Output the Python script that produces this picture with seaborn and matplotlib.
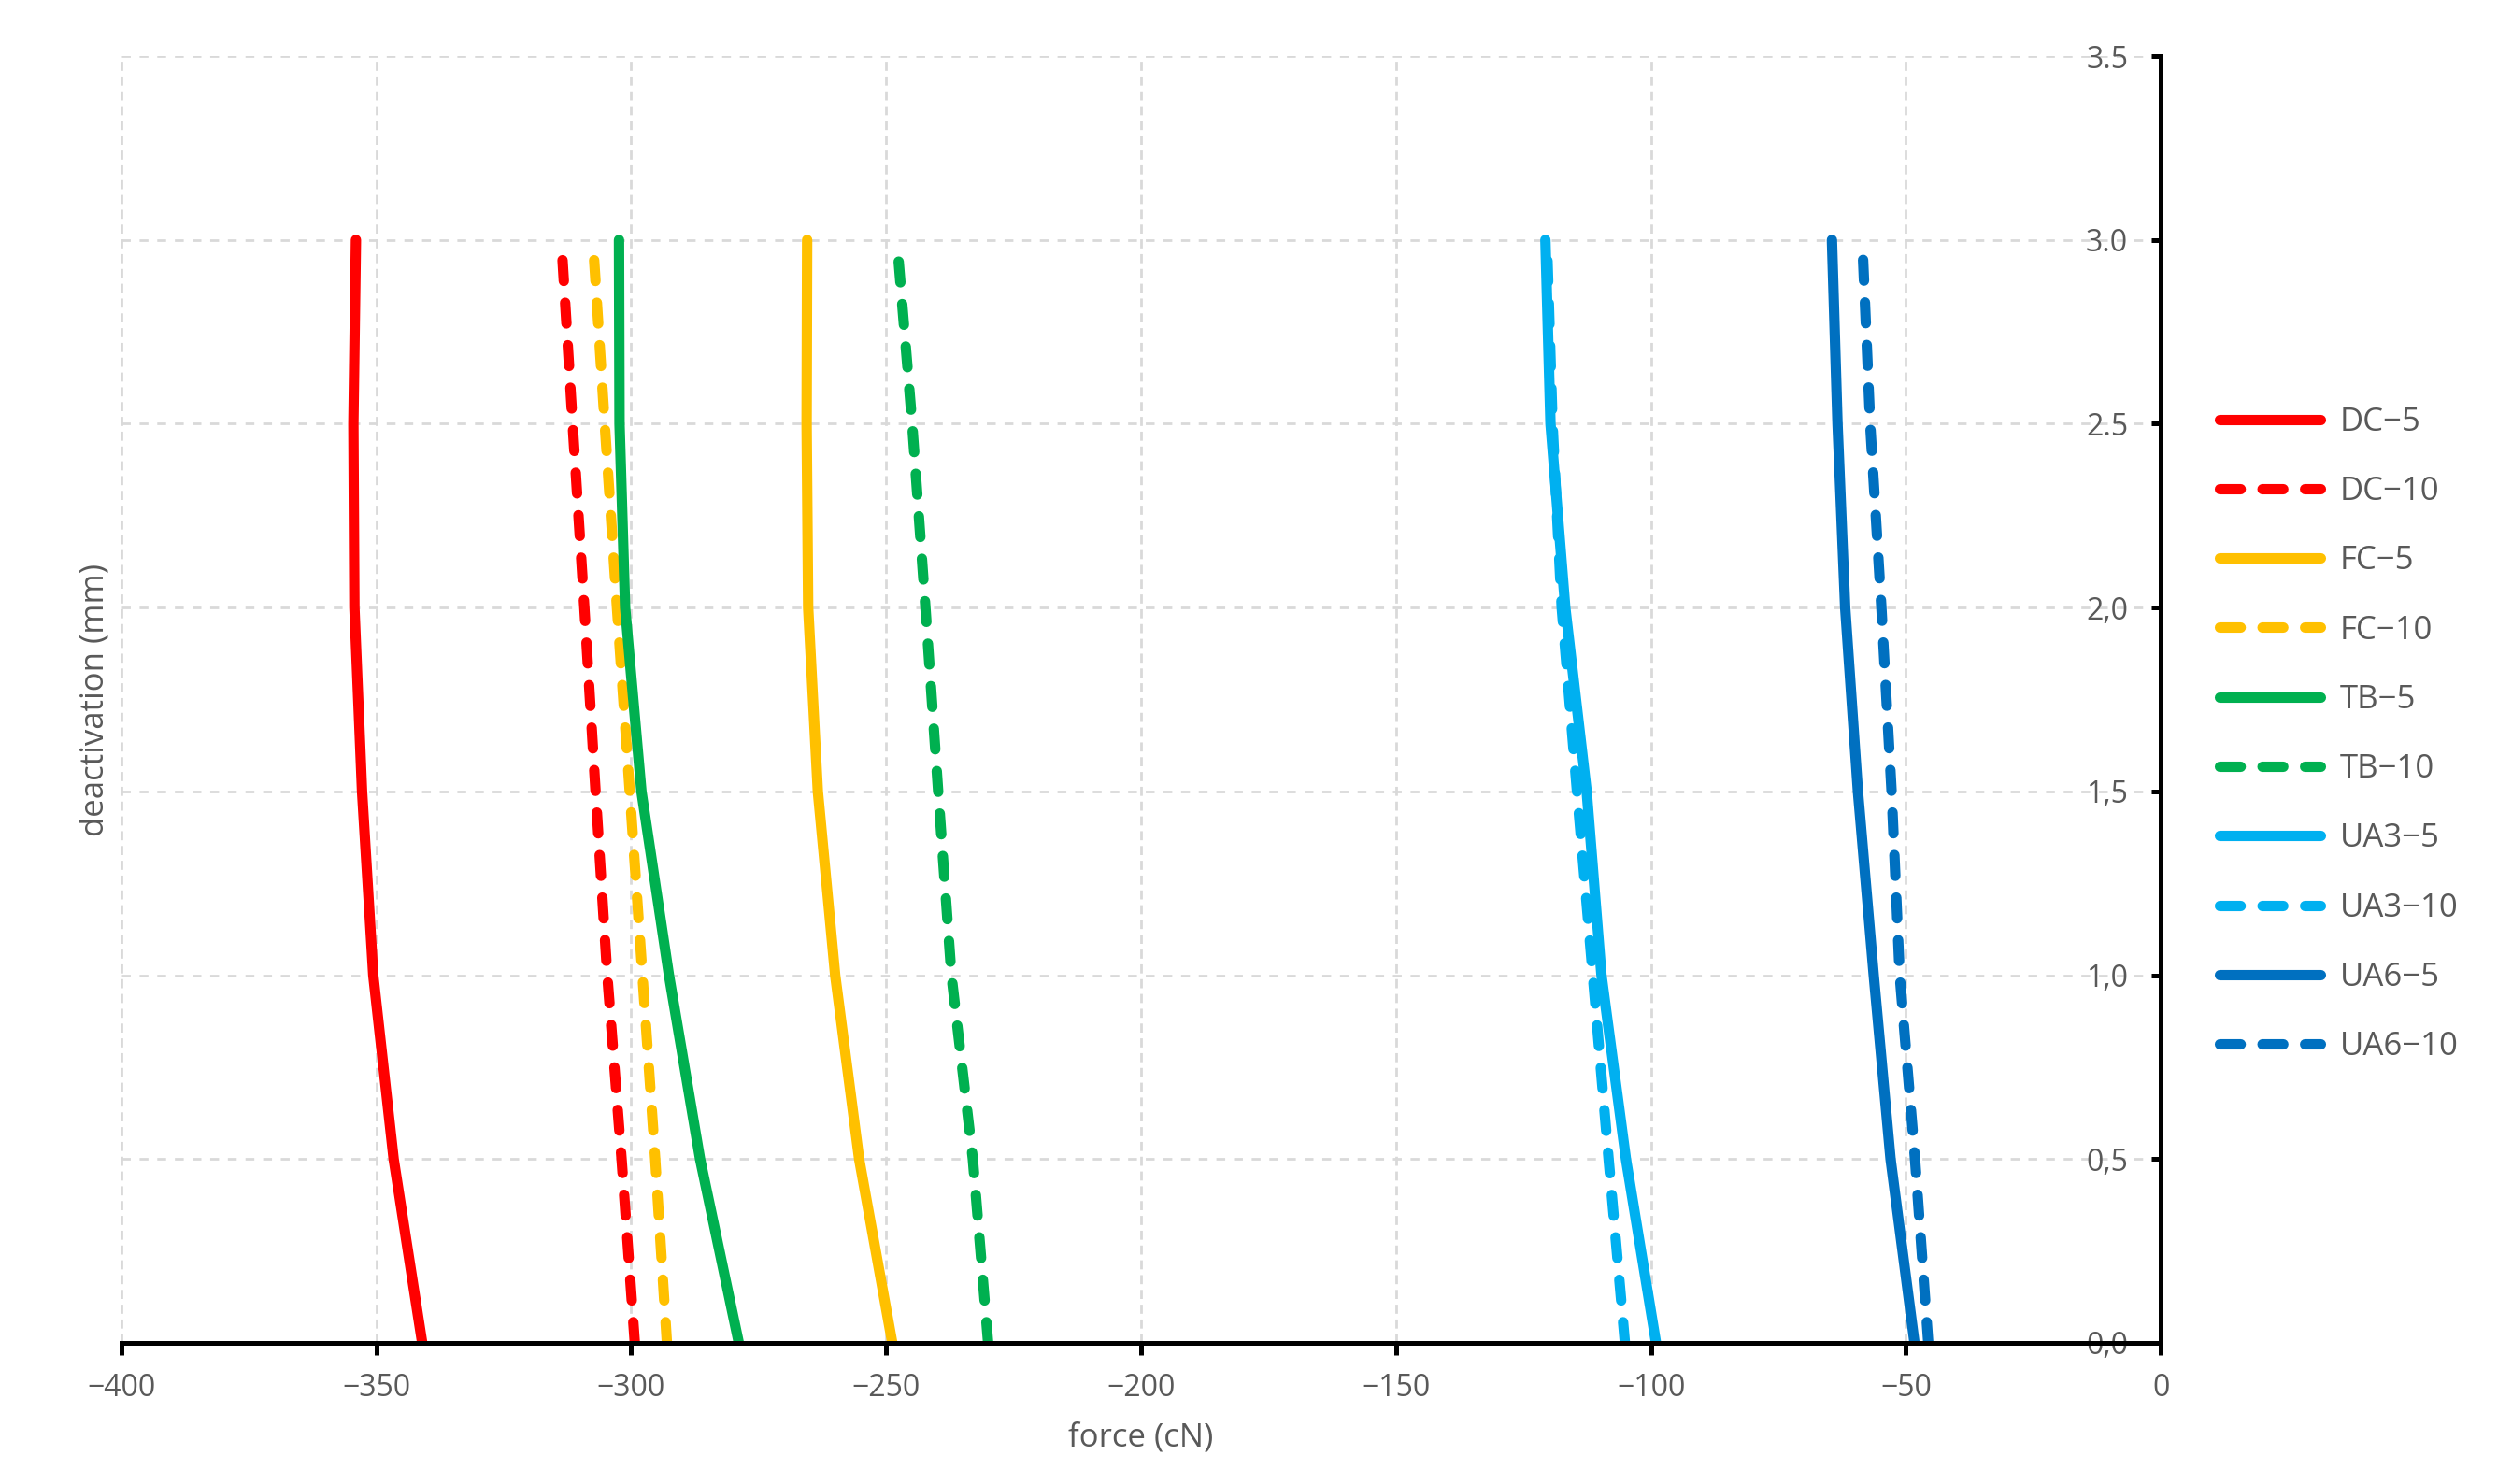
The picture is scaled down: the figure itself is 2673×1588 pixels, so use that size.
import pandas as pd
import matplotlib.pyplot as plt
import seaborn as sns

# deactivation levels (mm) where the curves were read
deact_5 = [0.0, 0.5, 1.0, 1.5, 2.0, 2.5, 3.0]
deact_10 = [0.0, 0.5, 1.0, 1.5, 2.0, 2.5, 2.95]

# force (cN) for each series at those levels
dc_5 = [-341.0, -346.6, -350.6, -352.8, -354.3, -354.5, -354.0]
dc_10 = [-299.3, -301.9, -304.7, -307.0, -309.2, -311.5, -313.5]
fc_5 = [-248.8, -255.3, -260.0, -263.4, -265.3, -265.6, -265.5]
fc_10 = [-293.0, -295.3, -297.8, -300.3, -302.8, -305.2, -307.3]
tb_5 = [-278.9, -286.5, -292.6, -298.0, -301.2, -302.3, -302.4]
tb_10 = [-230.0, -233.0, -237.2, -239.8, -242.3, -244.9, -247.6]
ua3_5 = [-99.0, -104.9, -109.7, -112.6, -116.8, -119.7, -120.7]
ua3_10 = [-105.1, -108.3, -111.4, -114.5, -117.5, -119.3, -120.3]
ua6_5 = [-48.3, -53.0, -56.3, -59.4, -61.9, -63.4, -64.5]
ua6_10 = [-45.6, -48.2, -51.2, -52.8, -54.8, -57.0, -58.4]

nomes = ["DC−5", "DC−10", "FC−5", "FC−10", "TB−5", "TB−10",
         "UA3−5", "UA3−10", "UA6−5", "UA6−10"]
forcas = [dc_5, dc_10, fc_5, fc_10, tb_5, tb_10, ua3_5, ua3_10, ua6_5, ua6_10]
cores = ["#FF0000", "#FF0000", "#FFC000", "#FFC000", "#00B050", "#00B050",
         "#00B0F0", "#00B0F0", "#0070C0", "#0070C0"]

y_ticks = [0.0, 0.5, 1.0, 1.5, 2.0, 2.5, 3.0, 3.5]
y_labels = ["0,0", "0,5", "1,0", "1,5", "2,0", "2.5", "3.0", "3.5"]
x_ticks = [-400, -350, -300, -250, -200, -150, -100, -50, 0]

linhas = []
for i, nome in enumerate(nomes):
    niveis = deact_5 if i % 2 == 0 else deact_10
    for f, d in zip(forcas[i], niveis):
        linhas.append({"serie": nome, "force": f, "deactivation": d})
df = pd.DataFrame(linhas)

paleta = dict(zip(nomes, cores))
tracos = {n: ("" if i % 2 == 0 else (2.0, 2.1)) for i, n in enumerate(nomes)}

sns.set_theme(style="white")
plt.rcParams["font.family"] = ["Open Sans", "DejaVu Sans"]

cinza = "#595959"
lw = 4.0
fig, ax = plt.subplots(figsize=(13.365, 7.94), dpi=200)
fig.subplots_adjust(left=0.0486, right=0.865, bottom=0.0951, top=0.9622)

sns.lineplot(
    data=df, x="force", y="deactivation",
    hue="serie", style="serie",
    hue_order=nomes, style_order=nomes,
    palette=paleta, dashes=tracos,
    sort=False, estimator=None,
    linewidth=lw, solid_capstyle="round", dash_capstyle="round",
    ax=ax,
)

ax.set_xlim(-400, 0)
ax.set_ylim(0, 3.5)
ax.set_xticks(x_ticks)
ax.set_yticks(y_ticks)
ax.set_yticklabels(y_labels)

ax.set_axisbelow(True)
ax.xaxis.grid(True, color="#d9d9d9", linewidth=1.0, linestyle=(0, (3.5, 2.2)))
ax.yaxis.grid(True, color="#d9d9d9", linewidth=1.0, linestyle=(0, (3.4, 3.4)))

ax.spines["top"].set_visible(False)
ax.spines["right"].set_visible(False)
ax.spines["left"].set_position(("data", 0))
for s in ["left", "bottom"]:
    ax.spines[s].set_color("black")
    ax.spines[s].set_linewidth(1.8)

ax.tick_params(axis="x", direction="out", length=4.5, width=1.8, color="black",
               labelcolor=cinza, labelsize=11.5, pad=7, bottom=True)
ax.tick_params(axis="y", direction="out", length=3.6, width=1.8, color="black",
               labelcolor=cinza, labelsize=11.5, pad=9, left=True)

ax.set_xlabel("force (cN)", fontsize=12.5, color=cinza, labelpad=7)
ax.set_ylabel("deactivation (mm)", fontsize=12.5, color=cinza)
ax.yaxis.set_label_coords(-0.005, 0.5)

leg = ax.get_legend()
handles = leg.legend_handles
labels = [t.get_text() for t in leg.get_texts()]
leg.remove()
for h in handles:
    h.set_linewidth(lw)
    h.set_solid_capstyle("round")
    h.set_dash_capstyle("round")

fig.legend(
    handles, labels,
    loc="center left", bbox_to_anchor=(0.8885, 0.505),
    frameon=False, fontsize=12.5, labelcolor=cinza,
    handlelength=3.1, handletextpad=0.6, labelspacing=1.16,
    borderpad=0, borderaxespad=0,
)

plt.savefig("out.png", dpi=200)
